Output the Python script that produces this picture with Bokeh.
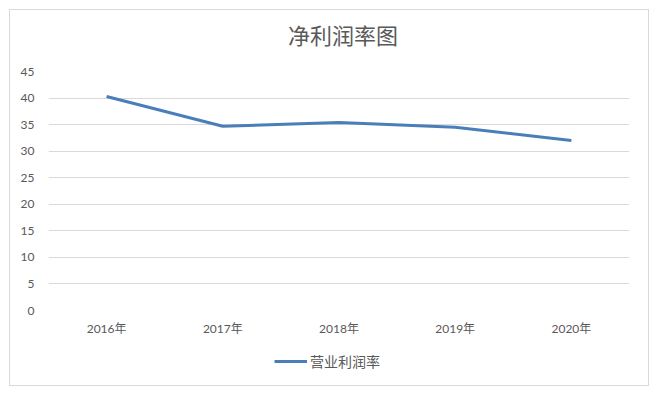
from bokeh.plotting import figure
from bokeh.models import (FactorRange, Range1d, Legend, LegendItem, ColumnDataSource,
                          SingleIntervalTicker, Column, Label)
from bokeh.embed import file_html
from bokeh.resources import INLINE

years = ["2016年", "2017年", "2018年", "2019年", "2020年"]
margin = [40.3, 34.7, 35.4, 34.5, 32.0]
series_name = "营业利润率"
title_text = "净利润率图"

GRAY = "#595959"
BLUE = "#4A7EBB"
FONT = "Lato, Noto Sans CJK SC"
CJK = "Noto Sans CJK SC"

src = ColumnDataSource(dict(x=years, y=margin))


def strip(h):
    f = figure(width=638, height=h, output_backend="svg", toolbar_location=None,
               x_range=Range1d(0, 638), y_range=Range1d(0, h),
               min_border_left=0, min_border_right=0, min_border_top=0, min_border_bottom=0)
    f.axis.visible = False
    f.grid.visible = False
    f.outline_line_color = None
    return f


# title strip
t = strip(45)
t.add_layout(Label(x=323.5, y=22, text=title_text, text_align="center", text_baseline="middle",
                   text_font=CJK, text_font_size="22px", text_color=GRAY))

# main chart
p = figure(width=638, height=291, output_backend="svg", toolbar_location=None,
           x_range=FactorRange(*years, range_padding=0), y_range=Range1d(0, 45),
           min_border_left=38, min_border_right=19, min_border_top=16, min_border_bottom=36)
p.outline_line_color = None
p.xgrid.grid_line_color = None
p.ygrid.grid_line_color = "#d9d9d9"
p.ygrid.grid_line_width = 1

p.yaxis.ticker = SingleIntervalTicker(interval=5)
for ax in (p.xaxis[0], p.yaxis[0]):
    ax.axis_line_color = None
    ax.major_tick_line_color = None
    ax.minor_tick_line_color = None
    ax.major_label_text_color = GRAY
    ax.major_label_text_font = FONT
    ax.major_label_text_font_size = "12px"
p.xaxis.major_label_standoff = 4
p.yaxis.major_label_standoff = 8

r = p.line("x", "y", source=src, line_color=BLUE, line_width=3)

# legend strip below the chart (proxy line kept outside the visible range)
q = strip(39)
lr = q.line(x=[900, 1000], y=[900, 900], line_color=BLUE, line_width=3)
legend = Legend(items=[LegendItem(label=series_name, renderers=[lr])], location=(226, 14),
                orientation="horizontal", label_text_font=CJK, label_text_font_size="14px",
                label_text_color=GRAY, glyph_width=33, glyph_height=14, padding=0, margin=0,
                border_line_color=None, background_fill_alpha=0, label_standoff=3,
                label_height=14)
q.add_layout(legend, "center")

layout = Column(t, p, q, spacing=0,
                styles={"border": "1px solid #d9d9d9", "margin-left": "9px", "margin-top": "9px"})

open("out.html", "w").write(file_html(layout, INLINE))
